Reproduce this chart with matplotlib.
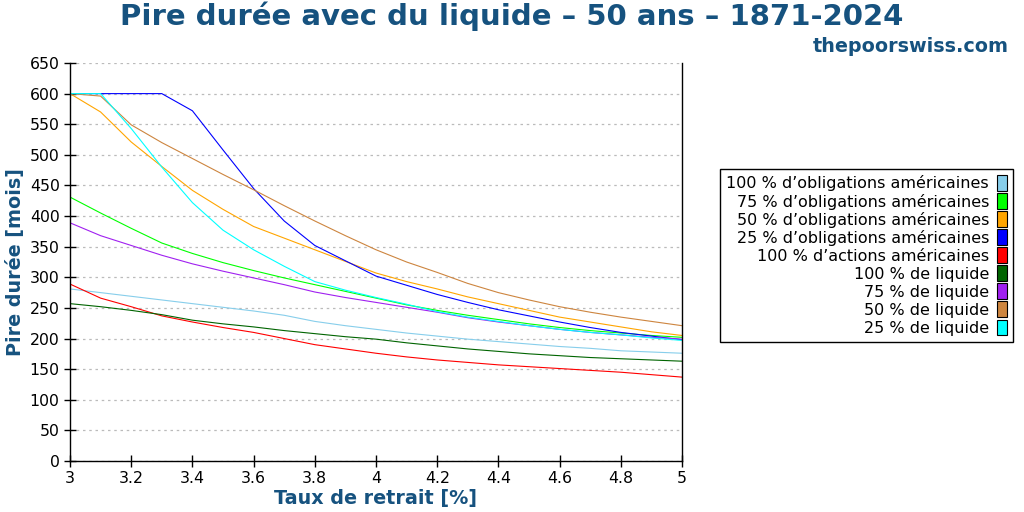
import matplotlib
matplotlib.use("Agg")
import matplotlib.pyplot as plt
from matplotlib.patches import Patch
from matplotlib.ticker import FormatStrFormatter, MultipleLocator

# ---- data ----
withdrawal_rates = [3.0, 3.1, 3.2, 3.3, 3.4, 3.5, 3.6, 3.7, 3.8, 3.9, 4.0,
                    4.1, 4.2, 4.3, 4.4, 4.5, 4.6, 4.7, 4.8, 4.9, 5.0]

bonds_100 = [281, 275, 269, 263, 257, 251, 245, 238, 228, 221, 215,
             209, 204, 199, 195, 191, 187, 184, 180, 178, 176]
bonds_75 = [431, 405, 380, 356, 339, 324, 311, 299, 288, 277, 266,
            255, 246, 238, 231, 224, 218, 213, 209, 205, 202]
bonds_50 = [600, 570, 521, 481, 442, 411, 383, 364, 345, 326, 307,
            293, 281, 268, 257, 246, 235, 227, 219, 211, 205]
bonds_25 = [600, 600, 600, 600, 572, 508, 445, 392, 352, 327, 302,
            287, 272, 259, 247, 237, 227, 218, 210, 204, 198]
stocks_100 = [289, 266, 252, 237, 227, 218, 210, 200, 190, 183, 176,
              170, 165, 161, 157, 154, 151, 148, 145, 141, 137]
cash_100 = [257, 252, 246, 239, 230, 224, 219, 213, 208, 203, 199,
            193, 188, 183, 179, 175, 172, 169, 167, 165, 163]
cash_75 = [389, 368, 352, 336, 322, 310, 299, 288, 276, 267, 259,
           251, 243, 234, 227, 221, 215, 210, 206, 202, 199]
cash_50 = [600, 596, 549, 520, 494, 468, 443, 417, 392, 368, 345,
           325, 308, 290, 275, 263, 252, 243, 235, 228, 221]
cash_25 = [600, 600, 543, 480, 422, 377, 345, 318, 293, 279, 267,
           256, 244, 235, 228, 221, 215, 210, 206, 201, 197]

series_labels = [
    "100 % d\u2019obligations américaines",
    "75 % d\u2019obligations américaines",
    "50 % d\u2019obligations américaines",
    "25 % d\u2019obligations américaines",
    "100 % d\u2019actions américaines",
    "100 % de liquide",
    "75 % de liquide",
    "50 % de liquide",
    "25 % de liquide",
]
series_values = [bonds_100, bonds_75, bonds_50, bonds_25, stocks_100,
                 cash_100, cash_75, cash_50, cash_25]
series_colors = ["#87CEEB", "#00FF00", "#FFA500", "#0000FF", "#FF0000",
                 "#006400", "#A020F0", "#CD853F", "#00FFFF"]

title = "Pire durée avec du liquide \u2013 50 ans \u2013 1871-2024"
subtitle = "thepoorswiss.com"
xlabel = "Taux de retrait [%]"
ylabel = "Pire durée [mois]"

# ---- plot ----
plt.rcParams['font.family'] = ['DejaVu Sans']
blue_txt = "#16527F"

fig = plt.figure(figsize=(10.24, 5.12), dpi=100)
ax = fig.add_axes([70 / 1024, 1 - 461 / 512, (682 - 70) / 1024, (461 - 63) / 512])

for vals, col, lab in zip(series_values, series_colors, series_labels):
    ax.plot(withdrawal_rates, vals, color=col, lw=0.8, label=lab)

ax.set_xlim(3, 5)
ax.set_ylim(0, 650)
ax.xaxis.set_major_locator(MultipleLocator(0.2))
ax.xaxis.set_major_formatter(FormatStrFormatter('%g'))
ax.yaxis.set_major_locator(MultipleLocator(50))
ax.grid(axis='y', color='#bbbbbb', linestyle=(0, (2, 3)), linewidth=0.9)
ax.set_axisbelow(True)
ax.spines['top'].set_visible(False)
for s in ['left', 'right', 'bottom']:
    ax.spines[s].set_linewidth(1.0)
    ax.spines[s].set_color('black')
ax.tick_params(axis='both', direction='inout', length=8, width=1, labelsize=11.3)
ax.tick_params(axis='y', right=False)

ax.set_xlabel(xlabel, fontsize=13.8, fontweight='bold', color=blue_txt, labelpad=2)
ax.set_ylabel(ylabel, fontsize=13.8, fontweight='bold', color=blue_txt, labelpad=3)

fig.text(0.5, 1 - 16 / 512, title, ha='center', va='center',
         fontsize=21, fontweight='bold', color=blue_txt)
fig.text(1009 / 1024, 1 - 46 / 512, subtitle, ha='right', va='center',
         fontsize=13.8, fontweight='bold', color=blue_txt)

handles = [Patch(facecolor=c, edgecolor='black', linewidth=0.8) for c in series_colors]
leg = fig.legend(handles, series_labels, loc='center right',
                 bbox_to_anchor=(1013 / 1024, 1 - 255.5 / 512),
                 bbox_transform=fig.transFigure,
                 markerfirst=False, fancybox=False, framealpha=1,
                 edgecolor='black', fontsize=11.5, handlelength=0.6,
                 handleheight=1.1, handletextpad=0.5, labelspacing=0.12,
                 borderpad=0.4, borderaxespad=0)
leg.get_frame().set_linewidth(1.0)
for t in leg.get_texts():
    t.set_ha('right')
leg._legend_box.align = "right"

fig.savefig("out.png", dpi=100)
